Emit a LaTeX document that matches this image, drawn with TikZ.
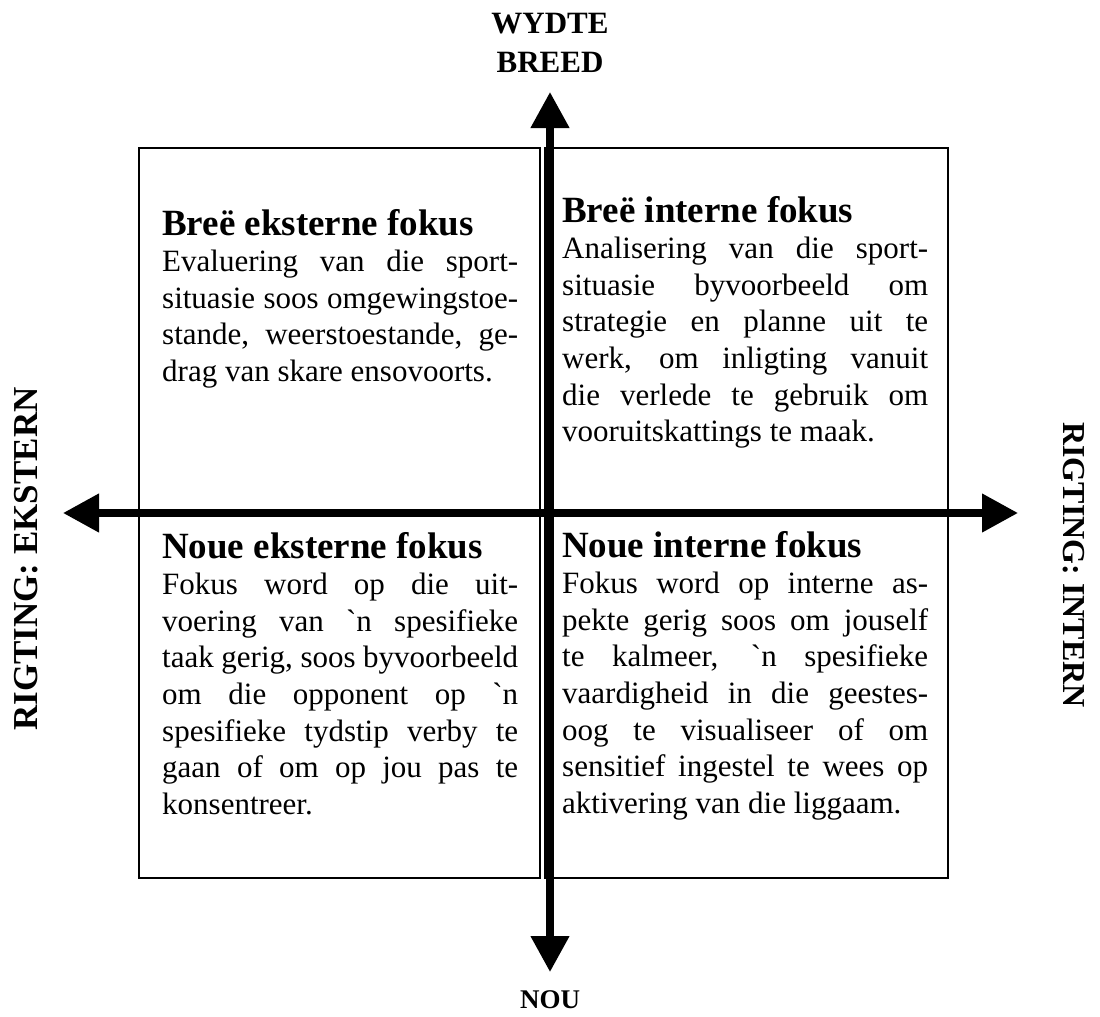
\documentclass[tikz,border=0pt]{standalone}
\usepackage{fontspec}
\setmainfont{Liberation Serif}
\usetikzlibrary{arrows.meta,positioning}
\newcommand{\kopfont}{\fontsize{37}{36.6}\selectfont\bfseries}
\newcommand{\teksfont}{\fontsize{31}{36.6}\selectfont}
\newcommand{\asfont}{\fontsize{31}{39}\selectfont\bfseries}
\newcommand{\kwoord}{\textasciigrave n}

\begin{document}
\begin{tikzpicture}[x=1pt,y=-1pt,
    raam/.style={line width=1.8pt},
    pyl/.style={line width=7.5pt,{Triangle[length=36pt,width=37pt]}-{Triangle[length=36pt,width=37pt]}},
    blok/.style={inner sep=0pt,anchor=base west,align=justify,font=\teksfont},
    asnaam/.style={inner sep=0pt,anchor=base,font=\asfont}]
    \useasboundingbox (0,0) rectangle (1100,1017);
    \hyphenpenalty=10000 \exhyphenpenalty=10000 \tolerance=10000 \hbadness=10000
    \draw[raam] (139,148) rectangle (540,511);
    \draw[raam] (545,148) rectangle (948,511);
    \draw[raam] (139,513) rectangle (540,878);
    \draw[raam] (545,513) rectangle (948,878);
    \node[blok,text width=356pt] (tl) at (162,235) {{\kopfont Breë eksterne fokus\par}Evaluering van die sport-\linebreak situasie soos omgewingstoe-\linebreak stande, weerstoestande, ge-\linebreak drag van skare ensovoorts.};
    \node[blok,text width=366pt] (tr) at (562,222) {{\kopfont Breë interne fokus\par}Analisering van die sport-\linebreak situasie byvoorbeeld om\linebreak strategie en planne uit te\linebreak werk, om inligting vanuit\linebreak die verlede te gebruik om\linebreak vooruitskattings te maak.};
    \node[blok,text width=356pt] (bl) at (162,558) {{\kopfont Noue eksterne fokus\par}Fokus word op die uit-\linebreak voering van \kwoord{} spesifieke\linebreak taak gerig, soos byvoorbeeld\linebreak om die opponent op \kwoord\linebreak spesifieke tydstip verby te\linebreak gaan of om op jou pas te\linebreak konsentreer.};
    \node[blok,text width=366pt] (br) at (562,557) {{\kopfont Noue interne fokus\par}Fokus word op interne as-\linebreak pekte gerig soos om jouself\linebreak te kalmeer, \kwoord{} spesifieke\linebreak vaardigheid in die geestes-\linebreak oog te visualiseer of om\linebreak sensitief ingestel te wees op\linebreak aktivering van die liggaam.};
    \coordinate (bo) at (550,92);
    \coordinate (onder) at (550,972);
    \coordinate (links) at (63,513);
    \coordinate (regs) at (1018,513);
    \draw[pyl] (onder) -- (bo);
    \draw[pyl] (links) -- (regs);
    \node[asnaam,text width=200pt,align=center] (wydte) at (550,33) {WYDTE\\BREED};
    \node[asnaam,font=\fontsize{27}{30}\selectfont\bfseries] (nou) at (550,1008) {NOU};
    \node[asnaam,rotate=90,font=\fontsize{35}{36}\selectfont\bfseries] (ekstern) at (37,559) {RIGTING: EKSTERN};
    \node[asnaam,rotate=-90,font=\fontsize{32}{36}\selectfont\bfseries] (intern) at (1063,565) {RIGTING: INTERN};
\end{tikzpicture}
\end{document}
